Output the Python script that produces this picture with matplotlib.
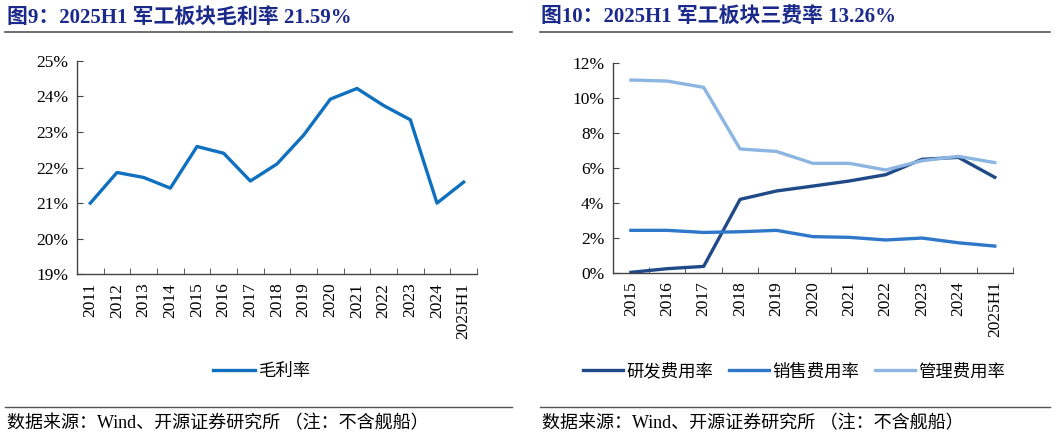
import numpy as np
import matplotlib.pyplot as plt
from matplotlib.lines import Line2D

plt.rcParams['font.family'] = ['Liberation Serif', 'Noto Sans CJK SC']
plt.rcParams['axes.unicode_minus'] = False

# 图9 数据
years_l = ['2011', '2012', '2013', '2014', '2015', '2016', '2017', '2018',
           '2019', '2020', '2021', '2022', '2023', '2024', '2025H1']
gross_margin = [21.00, 21.86, 21.72, 21.42, 22.59, 22.40, 21.62, 22.10,
                22.91, 23.92, 24.22, 23.74, 23.34, 21.00, 21.59]

# 图10 数据
years_r = ['2015', '2016', '2017', '2018', '2019', '2020', '2021', '2022',
           '2023', '2024', '2025H1']
rd_rate = [0.02, 0.23, 0.36, 4.19, 4.67, 4.95, 5.24, 5.60, 6.48, 6.59, 5.45]
sales_rate = [2.42, 2.42, 2.30, 2.34, 2.42, 2.06, 2.02, 1.87, 1.98, 1.71, 1.52]
admin_rate = [11.01, 10.95, 10.59, 7.07, 6.93, 6.25, 6.25, 5.87, 6.40, 6.65, 6.29]

title_color = '#1B2A8A'
W, H = 1057, 437

fig = plt.figure(figsize=(W / 100, H / 100), dpi=100)


def style_axis(ax, labels):
    n = len(labels)
    ax.set_xlim(-0.5, n - 0.5)
    ax.set_xticks(range(n))
    ax.set_xticklabels(labels, rotation=90, fontsize=12.5)
    ax.set_xticks(np.arange(-0.5, n, 1.0), minor=True)
    ax.tick_params(axis='x', which='major', length=0, pad=6)
    ax.tick_params(axis='x', which='minor', length=4, direction='in', color='#444444')
    ax.tick_params(axis='y', length=4, direction='in', labelsize=12.5, color='#444444', pad=6)
    for s in ['top', 'right']:
        ax.spines[s].set_visible(False)
    for s in ['left', 'bottom']:
        ax.spines[s].set_color('#444444')
        ax.spines[s].set_linewidth(1.0)


# 左图
ax1 = fig.add_axes([77 / W, 1 - 274.3 / H, 400 / W, (274.3 - 60.7) / H])
ax1.plot(range(len(years_l)), gross_margin, color='#1070C0', lw=2.4, label='毛利率')
ax1.set_ylim(19, 25)
ax1.set_yticks(range(19, 26))
ax1.set_yticklabels(['%d%%' % v for v in range(19, 26)])
style_axis(ax1, years_l)
ax1.legend(loc='center', bbox_to_anchor=(262 / W, 1 - 372 / H), bbox_transform=fig.transFigure,
           frameon=False, fontsize=12.5, handlelength=2.4, handletextpad=0.2)

# 右图
ax2 = fig.add_axes([612.7 / W, 1 - 272.7 / H, 400.3 / W, 210 / H])
x = range(len(years_r))
ax2.plot(x, rd_rate, color='#1F4A87', lw=2.4, label='研发费用率')
ax2.plot(x, sales_rate, color='#2F77C8', lw=2.4, label='销售费用率')
ax2.plot(x, admin_rate, color='#8DB5E2', lw=2.4, label='管理费用率')
ax2.set_ylim(0, 12)
ax2.set_yticks(range(0, 13, 2))
ax2.set_yticklabels(['%d%%' % v for v in range(0, 13, 2)])
style_axis(ax2, years_r)
ax2.legend(loc='center', bbox_to_anchor=(794 / W, 1 - 372 / H), bbox_transform=fig.transFigure,
           frameon=False, fontsize=12.5, ncol=3, handlelength=2.3, handletextpad=0.2,
           columnspacing=0.9)

# 标题和分隔线
fig.text(7 / W, 1 - 18 / H, '图9：2025H1 军工板块毛利率 21.59%', fontsize=15,
         fontweight='bold', color=title_color, va='center', ha='left')
fig.text(541 / W, 1 - 18 / H, '图10：2025H1 军工板块三费率 13.26%', fontsize=15,
         fontweight='bold', color=title_color, va='center', ha='left')
for x0, x1 in [(5, 512), (540, 1050)]:
    fig.add_artist(Line2D([x0 / W, x1 / W], [1 - 32 / H] * 2, color='#555555', lw=1.2))
    fig.add_artist(Line2D([x0 / W, x1 / W], [1 - 407 / H] * 2, color='#555555', lw=1.0))

src = '数据来源：Wind、开源证券研究所 （注：不含舰船）'
fig.text(7 / W, 1 - 424 / H, src, fontsize=13, va='center', ha='left')
fig.text(542 / W, 1 - 424 / H, src, fontsize=13, va='center', ha='left')

fig.savefig('out.png', dpi=100)
